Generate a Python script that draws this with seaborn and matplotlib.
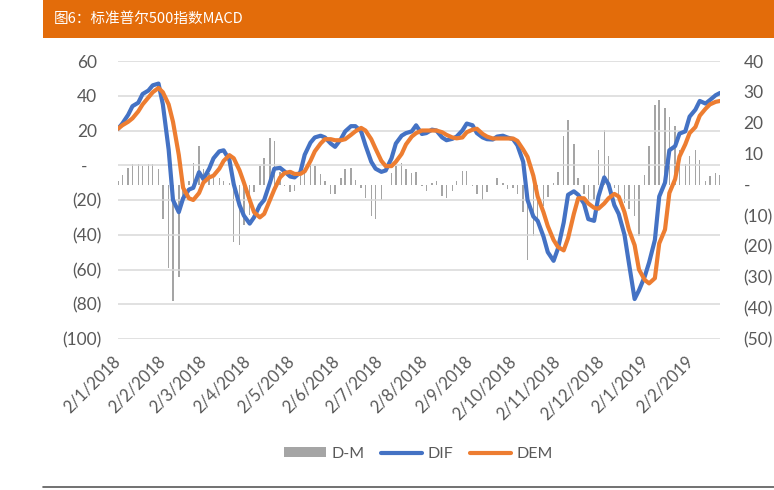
import numpy as np
import pandas as pd
import matplotlib
matplotlib.use('Agg')
import matplotlib.pyplot as plt
import matplotlib.transforms as mtransforms
from matplotlib.patches import Patch, Rectangle
from matplotlib.lines import Line2D
import seaborn as sns

# twice-weekly sample dates (Tue / Fri), 2 Jan 2018 - 22 Feb 2019
dates = pd.date_range('2018-01-02', '2019-02-22', freq='W-TUE').union(
    pd.date_range('2018-01-02', '2019-02-22', freq='W-FRI'))

# DIF (left axis)
dif = [21, 24, 29, 34, 36, 41, 43, 46, 47, 35,
       9, -20, -27, -19, -14, -13, -4, -8, -2, 4,
       8, 8.6, 3, -11, -23, -29, -33.6, -30, -23, -20,
       -10, -2, -1.5, -3.5, -6.5, -7, -4, 6, 13, 16,
       17, 16, 12.5, 10.6, 15, 19.5, 22.5, 22.5, 19.5, 11.5,
       2, -2, -3.8, -3, 4, 12.5, 17, 18.5, 19.5, 23,
       18, 18.5, 20.5, 20, 16, 14.4, 15.2, 16.5, 20, 24,
       23, 18.5, 16, 15, 14.8, 16.5, 17, 16, 15, 11.5,
       2, -20, -29.5, -32, -41, -50, -55, -48, -33, -17,
       -15, -17, -22, -31, -32, -18, -7, -11, -23, -28,
       -40, -56, -77, -72, -64, -56, -43, -18, -10, 8.6,
       11, 18.2, 19.5, 28, 32, 37, 35.5, 37.5, 40.3, 41.6]

# DEM (left axis)
dem = [21, 23, 25, 27, 31, 35, 39, 42, 44.5, 42,
       35, 25, 6, -13, -19, -20, -16, -10, -7, -6,
       -2, 2.5, 5.8, 4, -3, -10, -20, -27, -30, -28,
       -20, -14, -7, -4.5, -3.8, -5, -5, -3.5, 2.5, 8,
       12.5, 15, 15, 14.4, 14.4, 15, 17.5, 19.5, 21.5, 20,
       15, 9.5, 2.5, -0.5, -0.5, 2, 6.5, 12, 16.5, 18.5,
       20, 20, 20, 20, 19, 17.5, 16, 15.5, 16, 19,
       20.5, 21, 18, 16.5, 15.4, 15.4, 15.4, 15.4, 15.4, 14,
       9, 4.8, -6, -18, -27, -35, -43, -47, -49, -42,
       -28, -19, -19, -22, -24.5, -25, -22, -19, -16.5, -18,
       -27, -37, -46, -60, -66, -68, -65, -45, -37, -16,
       -8, 5, 12, 18.5, 22, 28.5, 32.5, 35, 36.5, 37]

# D-M bars (right axis)
dm = [1, 3, 5.5, 6.5, 6.5, 6, 6.5, 6.5, 5, -11,
      -27, -37.8, -30, -5, 1, 7, 12.4, 5, 3.8, 2,
      2, 1, 0.5, -18.7, -19.5, -13, -10, -2.5, 6, 8.6,
      15, 14, 4, -0.5, -2.5, -2, 2.7, 4.9, 7, 6,
      3.5, 1, -3, -3, 2, 5, 5.5, 1.6, -1.2, -4.3,
      -10.2, -11, -5, 0, 3.8, 6, 7, 4.9, 3.8, 4,
      -0.5, -2, 0.5, 1, -3.8, -4.3, -2, 1, 4.5, 4.3,
      -0.5, -3, -4.9, -2.5, 0, 2, 0.5, -1.6, -1, -3.2,
      -9, -24.3, -16.7, -12.5, -7, -4, 0.5, 4, 15.6, 21,
      13, 2, -3, -5, -5, 11.3, 17.8, 9.2, -1, -3,
      -6, -8, -10.2, -16.7, 3, 12.4, 25.9, 27.5, 24.8, 22,
      18.9, 11.3, 6.5, 9.2, 11.3, 8, 1, 2.7, 3.8, 3]

left_ticks = list(range(-100, 61, 20))
right_ticks = list(range(-50, 41, 10))
month_ticks = pd.date_range('2018-01-02', '2019-02-02', freq=pd.DateOffset(months=1))

df = pd.DataFrame({'date': dates, 'DIF': dif, 'DEM': dem, 'D-M': dm})

sns.set_style('white')
plt.rcParams['font.family'] = ['Lato', 'Noto Sans CJK SC', 'DejaVu Sans']

GRAY_TXT = '#595959'
BLUE = '#4472C4'
ORANGE = '#ED7D31'
BAR = '#A5A5A5'


def acct(v):
    if v == 0:
        return '-'
    return f'({abs(v)})' if v < 0 else f'{v}'


fig = plt.figure(figsize=(7.74, 4.90), dpi=100)
ax = fig.add_axes([118 / 774, 1 - 339 / 490, 602 / 774, 278 / 490])
ax2 = ax.twinx()

ax2.bar(df['date'], df['D-M'], width=1.0, color=BAR, linewidth=0)
sns.lineplot(data=df, x='date', y='DIF', ax=ax, color=BLUE, linewidth=3,
             solid_joinstyle='round', solid_capstyle='round')
sns.lineplot(data=df, x='date', y='DEM', ax=ax, color=ORANGE, linewidth=3,
             solid_joinstyle='round', solid_capstyle='round')

# lines above the bars
ax.set_zorder(ax2.get_zorder() + 1)
ax.patch.set_visible(False)

ax.set_xlim(dates[0], dates[-1])
ax.set_ylim(-100, 60)
ax2.set_ylim(-50, 40)
ax.set_xlabel('')
ax.set_ylabel('')

ax.set_yticks(left_ticks)
ax.set_yticklabels([acct(v) for v in left_ticks])
ax2.set_yticks(right_ticks)
ax2.set_yticklabels([acct(v) for v in right_ticks])
ax.set_xticks(month_ticks)
ax.set_xticklabels([f'{d.day}/{d.month}/{d.year}' for d in month_ticks])

ax.yaxis.grid(True, color='#D9D9D9', linewidth=1.1)
ax.xaxis.grid(False)
ax2.grid(False)
for a in (ax, ax2):
    for s in a.spines.values():
        s.set_visible(False)

ax.tick_params(axis='y', length=0, pad=12, labelsize=12.5, labelcolor=GRAY_TXT)
ax2.tick_params(axis='y', length=0, pad=17, labelsize=12.5, labelcolor=GRAY_TXT)
ax.tick_params(axis='x', length=0, pad=14, labelsize=12, labelcolor=GRAY_TXT)
plt.setp(ax.get_xticklabels(), rotation=45, ha='right', va='center', rotation_mode='anchor')

# accounting-style alignment of the left labels
for lbl, v in zip(ax.get_yticklabels(), left_ticks):
    shift = 0 if v < 0 else (4 if v > 0 else 14)
    lbl.set_transform(lbl.get_transform() +
                      mtransforms.ScaledTranslation(-shift / 100, 0, fig.dpi_scale_trans))

# legend
handles = [Patch(facecolor=BAR, edgecolor='none'),
           Line2D([0], [0], color=BLUE, lw=3),
           Line2D([0], [0], color=ORANGE, lw=3)]
fig.legend(handles, ['D-M', 'DIF', 'DEM'], loc='center', bbox_to_anchor=(0.541, 0.0735),
           ncol=3, frameon=False, fontsize=11.5, handlelength=2.6, handleheight=0.6,
           handletextpad=0.35, columnspacing=1.0, labelcolor=GRAY_TXT)

# title banner
fig.add_artist(Rectangle((43 / 774, 1 - 38 / 490), 1 - 43 / 774, 38 / 490,
                         transform=fig.transFigure, facecolor='#E36C0A', edgecolor='none'))
fig.text(54 / 774, 1 - 19 / 490, '图6：标准普尔500指数MACD', color='white', fontsize=10.5,
         va='center', ha='left', family=['Noto Sans CJK SC', 'DejaVu Sans'])
fig.add_artist(Line2D([43 / 774, 1], [1 - 487 / 490] * 2, transform=fig.transFigure,
                      color=GRAY_TXT, lw=1.2))

fig.savefig('out.png', dpi=100)
